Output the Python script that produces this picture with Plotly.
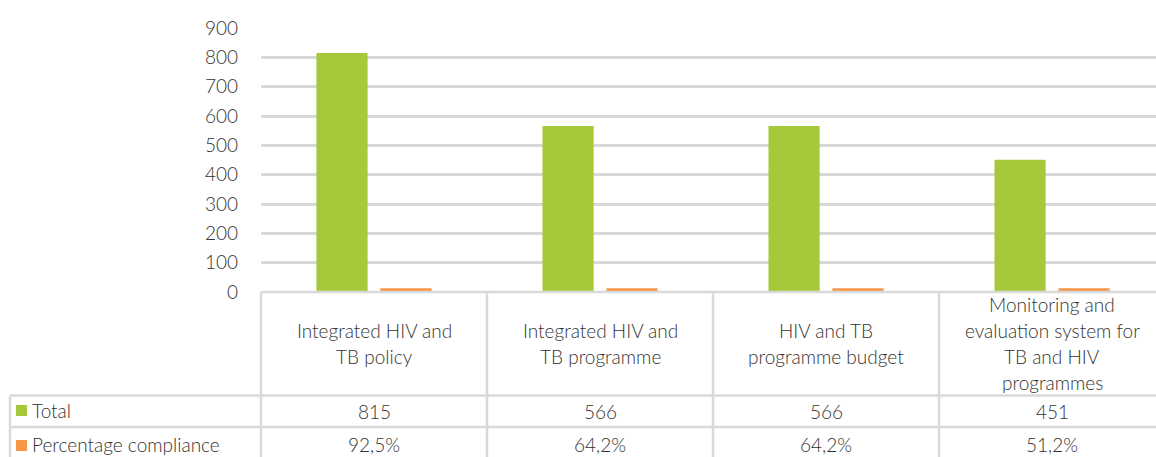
import plotly.graph_objects as go

# ---- data ----
categories = [
    "Integrated HIV and TB policy",
    "Integrated HIV and TB programme",
    "HIV and TB programme budget",
    "Monitoring and evaluation system for TB and HIV programmes",
]
header_lines = [
    ["Integrated HIV and", "TB policy"],
    ["Integrated HIV and", "TB programme"],
    ["HIV and TB", "programme budget"],
    ["Monitoring and", "evaluation system for", "TB and HIV", "programmes"],
]
series_names = ["Total", "Percentage compliance"]
total = [815, 566, 566, 451]
pct_compliance = [92.5, 64.2, 64.2, 51.2]
y_ticks = [0, 100, 200, 300, 400, 500, 600, 700, 800, 900]

GREEN = "#A5C93A"
ORANGE = "#F79646"
GRID = "#D9D9D9"
TEXT = "#333333"
FONT = "Lato"
FS = 19
FW = 300

W, H = 1156, 457
L, R, T, B = 261, 0, 28, 165
PW = W - L - R
PH = H - T - B
XRANGE = [-0.5, 3.46]
CAT_PX = PW / (XRANGE[1] - XRANGE[0])
BARGAP, BARGROUPGAP = 0.434, 0.2
BAR_W = (1 - BARGAP) / 2 * (1 - BARGROUPGAP)
OUTLINE = 7


def px_x(px):
    return (px - L) / PW


def px_y(py):
    return (H - B - py) / PH


def cat_x(v):
    return (v - XRANGE[0]) / (XRANGE[1] - XRANGE[0])


def tfont():
    return dict(family=FONT, size=FS, color=TEXT, weight=FW)


xs = list(range(len(categories)))

fig = go.Figure()
fig.add_trace(go.Bar(
    x=xs, y=total, name=series_names[0],
    marker=dict(color=GREEN, line=dict(width=0)),
))
fig.add_trace(go.Bar(
    x=xs, y=[p / 100 for p in pct_compliance], name=series_names[1],
    width=BAR_W - OUTLINE / CAT_PX,
    marker=dict(color=ORANGE, line=dict(color=ORANGE, width=OUTLINE)),
))

shapes = []
line = dict(color=GRID, width=2.5)
# header top border (x axis baseline)
shapes.append(dict(type="line", xref="paper", yref="paper",
                   x0=0, x1=1.01, y0=0, y1=0, line=line))
# row lines
for py in (395.5, 427):
    shapes.append(dict(type="line", xref="paper", yref="paper",
                       x0=px_x(10), x1=1.01, y0=px_y(py), y1=px_y(py), line=line))
# vertical column boundaries
for i in range(len(categories)):
    xb = cat_x(i - 0.5)
    shapes.append(dict(type="line", xref="paper", yref="paper",
                       x0=xb, x1=xb, y0=0, y1=px_y(470), line=line))
# legend column left border
shapes.append(dict(type="line", xref="paper", yref="paper",
                   x0=px_x(10), x1=px_x(10), y0=px_y(395.5), y1=px_y(470), line=line))
# legend keys
for cy, col in ((410.5, GREEN), (445.5, ORANGE)):
    shapes.append(dict(type="rect", xref="paper", yref="paper",
                       x0=px_x(16), x1=px_x(27), y0=px_y(cy - 5.5), y1=px_y(cy + 5.5),
                       fillcolor=col, line=dict(width=0)))

annotations = []
hdr_center = 343.5
spacing = 25.8
for i, lines in enumerate(header_lines):
    n = len(lines)
    for j, t in enumerate(lines):
        cy = hdr_center + (j - (n - 1) / 2) * spacing
        annotations.append(dict(x=i, xref="x", y=px_y(cy), yref="paper",
                                text=t, showarrow=False, xanchor="center", yanchor="middle",
                                font=tfont()))
for i in xs:
    annotations.append(dict(x=i, xref="x", y=px_y(411), yref="paper",
                            text=f"{total[i]}", showarrow=False, xanchor="center", yanchor="middle",
                            font=tfont()))
    annotations.append(dict(x=i, xref="x", y=px_y(444.5), yref="paper",
                            text=f"{pct_compliance[i]:.1f}%".replace(".", ","), showarrow=False,
                            xanchor="center", yanchor="middle", font=tfont()))
for cy, name in ((410, series_names[0]), (444, series_names[1])):
    annotations.append(dict(x=px_x(30), xref="paper", y=px_y(cy), yref="paper",
                            text=name, showarrow=False, xanchor="left", yanchor="middle",
                            font=tfont()))

fig.update_layout(
    width=W, height=H,
    margin=dict(l=L, r=R, t=T, b=B),
    paper_bgcolor="white", plot_bgcolor="white",
    barmode="group", bargap=BARGAP, bargroupgap=BARGROUPGAP,
    showlegend=False,
    font=tfont(),
    xaxis=dict(range=XRANGE, showticklabels=False, showgrid=False, zeroline=False,
               showline=False, ticks=""),
    yaxis=dict(range=[0, 900], tickvals=y_ticks, showgrid=True, gridcolor=GRID, gridwidth=2.5,
               zeroline=False, showline=False, ticks="", ticklabelstandoff=22,
               tickfont=tfont()),
    shapes=shapes,
    annotations=annotations,
)

fig.write_html("out.html", config={"displayModeBar": False},
               post_script="document.body.style.margin='0';")
